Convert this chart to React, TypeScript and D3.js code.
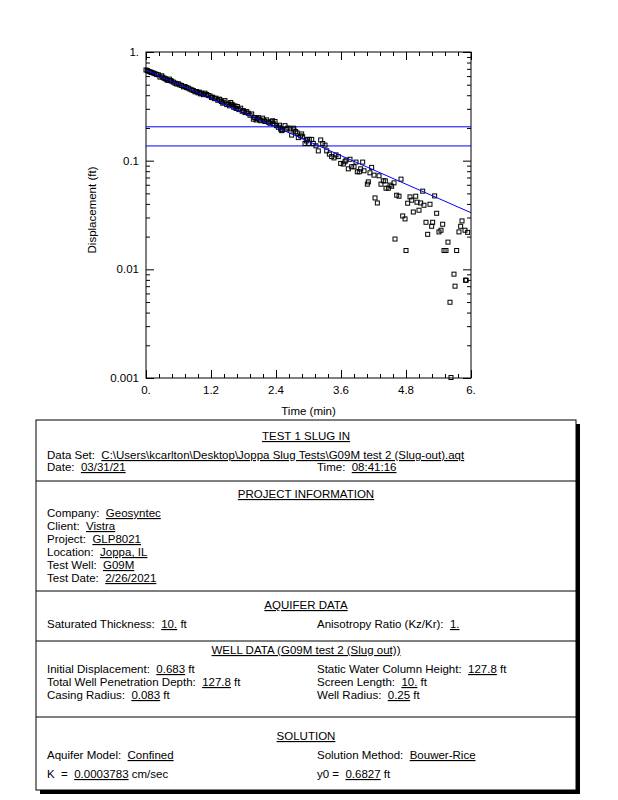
import React, { useRef, useEffect } from 'react';
import * as d3 from 'd3';

// observed data (time in min, displacement in ft)
const times = [
  0.0, 0.025, 0.055, 0.08, 0.105, 0.135, 0.166, 0.195, 0.228, 0.258, 0.289, 0.31, 0.332, 0.355, 0.382, 0.405,
  0.431, 0.452, 0.474, 0.505, 0.535, 0.565, 0.597, 0.625, 0.658, 0.69, 0.72, 0.75, 0.781, 0.812, 0.845, 0.874,
  0.905, 0.935, 0.96, 0.985, 1.005, 1.028, 1.06, 1.089, 1.12, 1.15, 1.182, 1.21, 1.231, 1.262, 1.292, 1.325,
  1.354, 1.366, 1.39, 1.416, 1.438, 1.458, 1.49, 1.52, 1.543, 1.563, 1.58, 1.6, 1.62, 1.643, 1.665, 1.686,
  1.715, 1.748, 1.775, 1.797, 1.828, 1.859, 1.889, 1.92, 1.951, 1.982, 2.005, 2.031, 2.05, 2.074, 2.095, 2.117,
  2.154, 2.175, 2.197, 2.228, 2.26, 2.289, 2.31, 2.338, 2.36, 2.382, 2.41, 2.443, 2.465, 2.486, 2.505, 2.523,
  2.566, 2.597, 2.62, 2.658, 2.689, 2.72, 2.732, 2.763, 2.79, 2.812, 2.855, 2.874, 2.892, 2.935, 2.96, 2.978,
  2.997, 3.015, 3.059, 3.089, 3.138, 3.181, 3.225, 3.262, 3.305, 3.336, 3.385, 3.428, 3.471, 3.508, 3.551, 3.594,
  3.643, 3.674, 3.692, 3.735, 3.766, 3.797, 3.84, 3.877, 3.901, 3.938, 3.963, 4.0, 4.025, 4.086, 4.105, 4.135,
  4.166, 4.209, 4.228, 4.271, 4.302, 4.338, 4.381, 4.418, 4.431, 4.474, 4.505, 4.535, 4.579, 4.597, 4.628, 4.671,
  4.708, 4.739, 4.782, 4.8, 4.831, 4.874, 4.905, 4.935, 4.979, 5.003, 5.04, 5.071, 5.108, 5.132, 5.169, 5.2,
  5.243, 5.274, 5.292, 5.329, 5.366, 5.409, 5.446, 5.477, 5.502, 5.538, 5.575, 5.612, 5.631, 5.686, 5.705, 5.735,
  5.778, 5.809, 5.834, 5.889, 5.9, 5.91, 5.938,
];
const displacements = [
  0.683, 0.676, 0.662, 0.655, 0.648, 0.64, 0.631, 0.622, 0.617, 0.588, 0.604, 0.586, 0.575, 0.568, 0.555, 0.548,
  0.563, 0.545, 0.54, 0.528, 0.517, 0.508, 0.51, 0.498, 0.492, 0.478, 0.481, 0.47, 0.465, 0.455, 0.448, 0.442,
  0.43, 0.433, 0.421, 0.427, 0.412, 0.418, 0.405, 0.418, 0.406, 0.398, 0.394, 0.381, 0.384, 0.372, 0.376, 0.36,
  0.368, 0.363, 0.35, 0.338, 0.345, 0.357, 0.328, 0.333, 0.32, 0.343, 0.33, 0.326, 0.31, 0.319, 0.302, 0.315,
  0.295, 0.304, 0.285, 0.289, 0.277, 0.283, 0.273, 0.262, 0.269, 0.241, 0.25, 0.237, 0.244, 0.249, 0.238, 0.233,
  0.246, 0.236, 0.229, 0.237, 0.226, 0.221, 0.228, 0.233, 0.218, 0.229, 0.21, 0.203, 0.212, 0.195, 0.189, 0.192,
  0.21, 0.195, 0.2, 0.196, 0.172, 0.199, 0.192, 0.185, 0.18, 0.163, 0.169, 0.176, 0.166, 0.144, 0.152, 0.157,
  0.144, 0.157, 0.157, 0.144, 0.137, 0.123, 0.155, 0.144, 0.139, 0.123, 0.115, 0.109, 0.106, 0.113, 0.109, 0.0944,
  0.0931, 0.0977, 0.101, 0.0841, 0.103, 0.0879, 0.0879, 0.097, 0.079, 0.079, 0.0841, 0.097, 0.0807, 0.0608, 0.0638, 0.0773,
  0.0867, 0.0736, 0.0454, 0.0408, 0.0726, 0.0608, 0.0652, 0.0652, 0.0558, 0.0558, 0.0596, 0.0582, 0.0625, 0.019, 0.0481, 0.0471,
  0.0676, 0.031, 0.0291, 0.0149, 0.0406, 0.0464, 0.0433, 0.0337, 0.0471, 0.0415, 0.035, 0.0408, 0.0524, 0.0389, 0.0271, 0.021,
  0.0397, 0.0249, 0.0271, 0.0474, 0.0328, 0.0221, 0.0229, 0.026, 0.0149, 0.0149, 0.0178, 0.00498, 0.00101, 0.00903, 0.007, 0.0149,
  0.0221, 0.0249, 0.0279, 0.0229, 0.00794, 0.00794, 0.0219,
];

// Bouwer-Rice fit and recommended head range
const fitTimes = [0, 6];
const fitValues = [0.6827, 0.0332];
const rangeValues = [0.2049, 0.1366];

const xTicks = [0, 1.2, 2.4, 3.6, 4.8, 6];
const xTickLabels = ['0.', '1.2', '2.4', '3.6', '4.8', '6.'];
const yTicks = [1, 0.1, 0.01, 0.001];
const yTickLabels = ['1.', '0.1', '0.01', '0.001'];

// info panel text: [label, value, suffix]
const headerRows: [string, string, string][] = [
  ['Data Set:', 'C:\\Users\\kcarlton\\Desktop\\Joppa Slug Tests\\G09M test 2 (Slug-out).aqt', ''],
  ['Date:', '03/31/21', ''],
  ['Time:', '08:41:16', ''],
];
const projectRows: [string, string][] = [
  ['Company:', 'Geosyntec'],
  ['Client:', 'Vistra'],
  ['Project:', 'GLP8021'],
  ['Location:', 'Joppa, IL'],
  ['Test Well:', 'G09M'],
  ['Test Date:', '2/26/2021'],
];
const wellLeft: [string, string, string][] = [
  ['Initial Displacement:', '0.683', ' ft'],
  ['Total Well Penetration Depth:', '127.8', ' ft'],
  ['Casing Radius:', '0.083', ' ft'],
];
const wellRight: [string, string, string][] = [
  ['Static Water Column Height:', '127.8', ' ft'],
  ['Screen Length:', '10.', ' ft'],
  ['Well Radius:', '0.25', ' ft'],
];

const FONT = '"Liberation Sans", Arial, sans-serif';
const FS = 11.5;

export default function App() {
  const svgRef = useRef<SVGSVGElement>(null);

  useEffect(() => {
    if (!svgRef.current) return;
    const svg = d3.select(svgRef.current);
    svg.selectAll('*').remove();

    const margin = { top: 52, left: 146 };
    const innerWidth = 325;
    const innerHeight = 326;

    const g = svg.append('g').attr('transform', `translate(${margin.left},${margin.top})`);

    const xScale = d3.scaleLinear().domain([0, 6]).range([0, innerWidth]);
    const yScale = d3.scaleLog().domain([0.001, 1]).range([innerHeight, 0]);

    // minor tick positions
    const xMinor = d3.range(0, 6.0001, 0.24).filter(v => !xTicks.some(t => Math.abs(t - v) < 1e-6));
    const yMinor: number[] = [];
    [0.001, 0.01, 0.1].forEach(d => { for (let k = 2; k <= 9; k++) yMinor.push(d * k); });

    const tickStyle = (sel: any) => {
      sel.select('.domain').remove();
      sel.selectAll('line').attr('stroke', '#000').attr('stroke-width', 1);
      sel.selectAll('text').remove();
    };

    // inward ticks on all four sides
    g.append('g').attr('transform', `translate(0,${innerHeight})`)
      .call(d3.axisBottom(xScale).tickValues(xTicks).tickSize(-8).tickFormat(() => '')).call(tickStyle);
    g.append('g').attr('transform', `translate(0,${innerHeight})`)
      .call(d3.axisBottom(xScale).tickValues(xMinor).tickSize(-4).tickFormat(() => '')).call(tickStyle);
    g.append('g')
      .call(d3.axisTop(xScale).tickValues(xTicks).tickSize(-8).tickFormat(() => '')).call(tickStyle);
    g.append('g')
      .call(d3.axisTop(xScale).tickValues(xMinor).tickSize(-4).tickFormat(() => '')).call(tickStyle);
    g.append('g')
      .call(d3.axisLeft(yScale).tickValues(yTicks).tickSize(-8).tickFormat(() => '')).call(tickStyle);
    g.append('g')
      .call(d3.axisLeft(yScale).tickValues(yMinor).tickSize(-4).tickFormat(() => '')).call(tickStyle);
    g.append('g').attr('transform', `translate(${innerWidth},0)`)
      .call(d3.axisRight(yScale).tickValues(yTicks).tickSize(-8).tickFormat(() => '')).call(tickStyle);
    g.append('g').attr('transform', `translate(${innerWidth},0)`)
      .call(d3.axisRight(yScale).tickValues(yMinor).tickSize(-4).tickFormat(() => '')).call(tickStyle);

    // frame
    g.append('rect')
      .attr('x', 0).attr('y', 0)
      .attr('width', innerWidth).attr('height', innerHeight)
      .attr('fill', 'none').attr('stroke', '#000').attr('stroke-width', 1);

    // tick labels
    g.selectAll('.xlab').data(xTicks).enter().append('text')
      .attr('x', d => xScale(d)).attr('y', innerHeight + 16)
      .attr('text-anchor', 'middle').attr('font-size', FS).attr('font-family', FONT)
      .text((d, i) => xTickLabels[i]);
    g.selectAll('.ylab').data(yTicks).enter().append('text')
      .attr('x', -7).attr('y', d => yScale(d) + 4)
      .attr('text-anchor', 'end').attr('font-size', FS).attr('font-family', FONT)
      .text((d, i) => yTickLabels[i]);

    g.append('text')
      .attr('x', innerWidth / 2).attr('y', innerHeight + 37)
      .attr('text-anchor', 'middle').attr('font-size', FS).attr('font-family', FONT)
      .text('Time (min)');
    g.append('text')
      .attr('transform', 'rotate(-90)')
      .attr('x', -innerHeight / 2 + 5).attr('y', -50)
      .attr('text-anchor', 'middle').attr('font-size', FS).attr('font-family', FONT)
      .text('Displacement (ft)');

    // recommended range lines
    g.selectAll('.range').data(rangeValues).enter().append('line')
      .attr('x1', 0).attr('x2', innerWidth)
      .attr('y1', d => yScale(d)).attr('y2', d => yScale(d))
      .attr('stroke', '#0000ff').attr('stroke-width', 1);

    // data points
    const pts = times.map((t, i) => ({ t, v: displacements[i] }));
    g.selectAll('.dot').data(pts).enter().append('rect')
      .attr('x', d => xScale(d.t) - 2).attr('y', d => yScale(d.v) - 2)
      .attr('width', 4).attr('height', 4)
      .attr('fill', 'none').attr('stroke', '#000').attr('stroke-width', 1);

    // fitted line
    const line = d3.line<number>()
      .x((d, i) => xScale(fitTimes[i]))
      .y(d => yScale(d));
    g.append('path').datum(fitValues)
      .attr('fill', 'none').attr('stroke', '#0000ff').attr('stroke-width', 1)
      .attr('d', line);

    // info panel
    const box = { x: 36, y: 420, w: 540, h: 370 };
    const p = svg.append('g');
    p.append('rect').attr('x', box.x + 4).attr('y', box.y + 4).attr('width', box.w).attr('height', box.h).attr('fill', '#000');
    p.append('rect').attr('x', box.x).attr('y', box.y).attr('width', box.w).attr('height', box.h)
      .attr('fill', '#fff').attr('stroke', '#000').attr('stroke-width', 1);
    [481, 591, 641, 717].forEach(yy => {
      p.append('line').attr('x1', box.x).attr('x2', box.x + box.w).attr('y1', yy).attr('y2', yy)
        .attr('stroke', '#000').attr('stroke-width', 1);
    });

    const cx = box.x + box.w / 2;
    const lx = 47;
    const rx = 317;
    const title = (txt: string, y: number) => {
      p.append('text').attr('x', cx).attr('y', y).attr('text-anchor', 'middle')
        .attr('font-size', FS).attr('font-family', FONT).attr('text-decoration', 'underline').text(txt);
    };
    const field = (x: number, y: number, label: string, value: string, suffix: string) => {
      const t = p.append('text').attr('x', x).attr('y', y).attr('font-size', FS).attr('font-family', FONT)
        .style('white-space', 'pre');
      t.append('tspan').text(label + '  ');
      t.append('tspan').attr('text-decoration', 'underline').text(value);
      if (suffix) t.append('tspan').text(suffix);
    };

    title('TEST 1 SLUG IN', 440);
    field(lx, 459, headerRows[0][0], headerRows[0][1], headerRows[0][2]);
    field(lx, 471, headerRows[1][0], headerRows[1][1], headerRows[1][2]);
    field(rx, 471, headerRows[2][0], headerRows[2][1], headerRows[2][2]);

    title('PROJECT INFORMATION', 498);
    projectRows.forEach((r, i) => field(lx, 517 + i * 13, r[0], r[1], ''));

    title('AQUIFER DATA', 609);
    field(lx, 628, 'Saturated Thickness:', '10.', ' ft');
    field(rx, 628, 'Anisotropy Ratio (Kz/Kr):', '1.', '');

    title('WELL DATA (G09M test 2 (Slug out))', 654);
    wellLeft.forEach((r, i) => field(lx, 673 + i * 13, r[0], r[1], r[2]));
    wellRight.forEach((r, i) => field(rx, 673 + i * 13, r[0], r[1], r[2]));

    title('SOLUTION', 740);
    field(lx, 759, 'Aquifer Model:', 'Confined', '');
    field(rx, 759, 'Solution Method:', 'Bouwer-Rice', '');
    field(lx, 778, 'K  =', '0.0003783', ' cm/sec');
    field(rx, 778, 'y0 =', '0.6827', ' ft');
  }, []);

  return (
    <svg
      ref={svgRef}
      width={618}
      height={800}
      style={{ position: 'absolute', left: 0, top: 0, background: '#fff' }}
    />
  );
}
